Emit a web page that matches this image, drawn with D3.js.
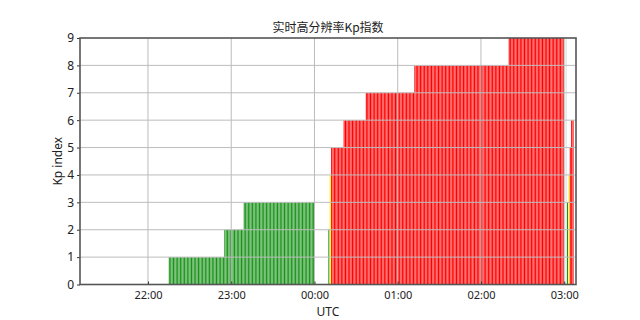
<!DOCTYPE html>
<html>
<head>
<meta charset="utf-8">
<script src="https://cdn.jsdelivr.net/npm/d3@7"></script>
<style>
  body { margin: 0; background: #fff; }
  svg { display: block; }
  .tick text { font-family: "Noto Sans", "DejaVu Sans", sans-serif; font-size: 11px; fill: #222; }
</style>
</head>
<body>
<div class="graph-container"></div>
<script>
// chart data: runs of constant 1-minute Kp values (UTC, HH:MM, end exclusive)
const runStart = ['22:15', '22:55', '23:09', '00:10', '00:11', '00:12', '00:21', '00:37', '01:12', '02:20', '03:02', '03:03', '03:04', '03:05'];
const runEnd = ['22:55', '23:09', '00:00', '00:11', '00:12', '00:21', '00:37', '01:12', '02:20', '03:00', '03:03', '03:04', '03:05', '03:07'];
const runKp = [1, 2, 3, 2, 4, 5, 6, 7, 8, 9, 3, 4, 5, 6];
const missingMinutes = ['03:01'];
const kpTicks = [0, 1, 2, 3, 4, 5, 6, 7, 8, 9];
const hourTicks = ['22:00', '23:00', '00:00', '01:00', '02:00', '03:00'];
const timeStart = '21:11';
const timeEnd = '03:08';

// svg parameters
const w = 640;
const h = 320;
const margin = { top: 38, right: 64, bottom: 35.5, left: 80 };

// times before noon belong to the next day
function toDate(hhmm) {
  const [hh, mm] = hhmm.split(':').map(Number);
  return new Date(Date.UTC(2000, 0, hh < 12 ? 2 : 1, hh, mm));
}
const minute = 60 * 1000;

// expand the runs into one bar per minute
const bars = [];
runStart.forEach((s, i) => {
  for (let t = +toDate(s); t < +toDate(runEnd[i]); t += minute) {
    bars.push({ t: new Date(t), kp: runKp[i], missing: false });
  }
});
missingMinutes.forEach((m) => bars.push({ t: toDate(m), kp: 9, missing: true }));

function kpColor(d) {
  if (d.missing) return '#dcdcdc';
  if (d.kp < 4) return '#1a931a';
  if (d.kp < 5) return '#ffff00';
  return '#ff0000';
}

const svg = d3.select('.graph-container')
  .append('svg')
  .attr('width', w)
  .attr('height', h);

const xScale = d3.scaleUtc()
  .domain([toDate(timeStart), new Date(+toDate(timeEnd) + 30 * 1000)])
  .range([margin.left, w - margin.right]);
const yScale = d3.scaleLinear()
  .domain([0, 9])
  .range([h - margin.bottom, margin.top]);

const step = xScale(new Date(+toDate('00:00') + minute)) - xScale(toDate('00:00'));

// bars
svg.append('g')
  .selectAll('rect')
  .data(bars)
  .enter()
  .append('rect')
  .attr('x', (d) => xScale(d.t))
  .attr('y', (d) => yScale(d.kp))
  .attr('width', step * 0.76)
  .attr('height', (d) => yScale(0) - yScale(d.kp))
  .attr('fill', kpColor);

// grid on top of the bars
const grid = svg.append('g').attr('stroke', '#bcbcbc').attr('stroke-width', 1);
grid.selectAll('.hgrid')
  .data(kpTicks.slice(1, -1))
  .enter()
  .append('line')
  .attr('x1', margin.left)
  .attr('x2', w - margin.right)
  .attr('y1', (d) => yScale(d))
  .attr('y2', (d) => yScale(d));
grid.selectAll('.vgrid')
  .data(hourTicks)
  .enter()
  .append('line')
  .attr('x1', (d) => xScale(toDate(d)))
  .attr('x2', (d) => xScale(toDate(d)))
  .attr('y1', margin.top)
  .attr('y2', h - margin.bottom);

// axes
const xAxis = d3.axisBottom(xScale)
  .tickValues(hourTicks.map(toDate))
  .tickFormat(d3.utcFormat('%H:%M'))
  .tickSize(-3)
  .tickPadding(7);
const yAxis = d3.axisLeft(yScale)
  .tickValues(kpTicks)
  .tickFormat(d3.format('d'))
  .tickSize(3)
  .tickPadding(3);

svg.append('g')
  .attr('transform', `translate(0, ${h - margin.bottom})`)
  .call(xAxis)
  .call((g) => g.select('.domain').remove())
  .call((g) => g.selectAll('.tick line').attr('stroke', '#333'));
svg.append('g')
  .attr('transform', `translate(${margin.left}, 0)`)
  .call(yAxis)
  .call((g) => g.select('.domain').remove())
  .call((g) => g.selectAll('.tick line').attr('stroke', '#333'))
  .call((g) => g.selectAll('.tick text').style('font-size', '12px'));

// frame
svg.append('rect')
  .attr('x', margin.left)
  .attr('y', margin.top)
  .attr('width', w - margin.left - margin.right)
  .attr('height', h - margin.top - margin.bottom)
  .attr('fill', 'none')
  .attr('stroke', '#555')
  .attr('stroke-width', 1.6);

// labels
svg.append('text')
  .text('实时高分辨率Kp指数')
  .attr('x', (margin.left + w - margin.right) / 2)
  .attr('y', 32)
  .attr('text-anchor', 'middle')
  .style('font-family', '"Noto Sans CJK SC", sans-serif')
  .style('font-size', '12px')
  .style('fill', '#222');

svg.append('text')
  .text('UTC')
  .attr('x', (margin.left + w - margin.right) / 2)
  .attr('y', 316)
  .attr('text-anchor', 'middle')
  .style('font-family', '"Noto Sans", sans-serif')
  .style('font-size', '12px')
  .style('fill', '#222');

svg.append('text')
  .text('Kp index')
  .attr('transform', `translate(62, ${(margin.top + h - margin.bottom) / 2}) rotate(-90)`)
  .attr('text-anchor', 'middle')
  .style('font-family', '"Noto Sans", sans-serif')
  .style('font-size', '12px')
  .style('fill', '#222');
</script>
</body>
</html>
